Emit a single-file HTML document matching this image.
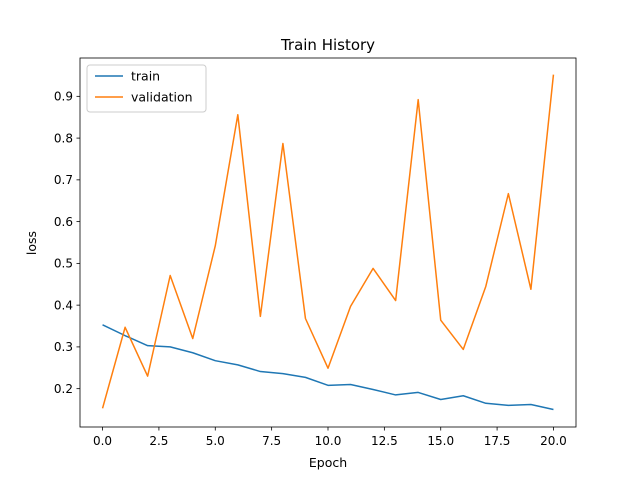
<!DOCTYPE html>
<html><head><meta charset="utf-8"><style>
body{margin:0;background:#fff;}
svg{display:block;font-family:"DejaVu Sans","Liberation Sans",sans-serif;}
</style></head><body>
<svg id="chart" width="640" height="480" viewBox="0 0 640 480">
<rect width="640" height="480" fill="#fff"/>
<text x="328" y="50" text-anchor="middle" font-size="15">Train History</text>
<g id="ticks"></g>
<g id="lines"></g>
<rect x="80" y="58" width="496" height="369" fill="none" stroke="#000" stroke-width="0.8"/>
<text x="328" y="467" text-anchor="middle" font-size="12.5">Epoch</text>
<text x="0" y="0" transform="translate(36,243) rotate(-90)" text-anchor="middle" font-size="12.5">loss</text>
<g>
<rect x="87" y="65" width="119" height="47" rx="3" fill="#fff" fill-opacity="0.8" stroke="#ccc" stroke-width="1"/>
<line x1="95" y1="76" x2="123" y2="76" stroke="#1f77b4" stroke-width="1.5"/>
<text x="131" y="80.5" font-size="12.5">train</text>
<line x1="95" y1="97" x2="123" y2="97" stroke="#ff7f0e" stroke-width="1.5"/>
<text x="131" y="101.5" font-size="12.5">validation</text>
</g>
</svg>
<script>
const epochs = [0,1,2,3,4,5,6,7,8,9,10,11,12,13,14,15,16,17,18,19,20];
const trainLoss = [0.353,0.327,0.303,0.300,0.286,0.267,0.257,0.241,0.236,0.227,0.208,0.210,0.198,0.185,0.191,0.174,0.183,0.165,0.160,0.162,0.150];
const valLoss = [0.153,0.347,0.230,0.471,0.320,0.542,0.856,0.373,0.787,0.368,0.249,0.397,0.488,0.411,0.892,0.364,0.294,0.445,0.667,0.438,0.952];
const xTicks = [0,2.5,5,7.5,10,12.5,15,17.5,20];
const yTicks = [0.2,0.3,0.4,0.5,0.6,0.7,0.8,0.9];

const NS="http://www.w3.org/2000/svg";
const L=80,R=576,T=58,B=427;
const xMin=-1,xMax=21,yMin=0.1082,yMax=0.9918;
const sx=v=>L+(v-xMin)/(xMax-xMin)*(R-L);
const sy=v=>B-(v-yMin)/(yMax-yMin)*(B-T);
function mk(tag,attrs,parent){const e=document.createElementNS(NS,tag);for(const k in attrs)e.setAttribute(k,attrs[k]);parent.appendChild(e);return e;}
const tg=document.getElementById('ticks');
xTicks.forEach(t=>{
  const x=sx(t);
  const l=mk('line',{x1:x,x2:x,y1:B,y2:B+3.5,stroke:'#000','stroke-width':0.8},tg);
  
  
  const tx=mk('text',{x:x,y:B+18,'text-anchor':'middle','font-size':12},tg);
  tx.textContent=t.toFixed(1);
  
  
});
yTicks.forEach(t=>{
  const y=sy(t);
  const l=mk('line',{x1:L-3.5,x2:L,y1:y,y2:y,stroke:'#000','stroke-width':0.8},tg);
  
  
  const tx=mk('text',{x:L-7,y:y+4.3,'text-anchor':'end','font-size':12},tg);
  tx.textContent=t.toFixed(1);
  
  
});
const lg=document.getElementById('lines');
function series(vals,color,name){
  const pts=vals.map((v,i)=>sx(epochs[i]).toFixed(2)+','+sy(v).toFixed(2)).join(' ');
  const p=mk('polyline',{points:pts,fill:'none',stroke:color,'stroke-width':1.5,'stroke-linejoin':'round'},lg);
  
  
}
series(trainLoss,'#1f77b4','train-line');
series(valLoss,'#ff7f0e','validation-line');
</script>
</body></html>
